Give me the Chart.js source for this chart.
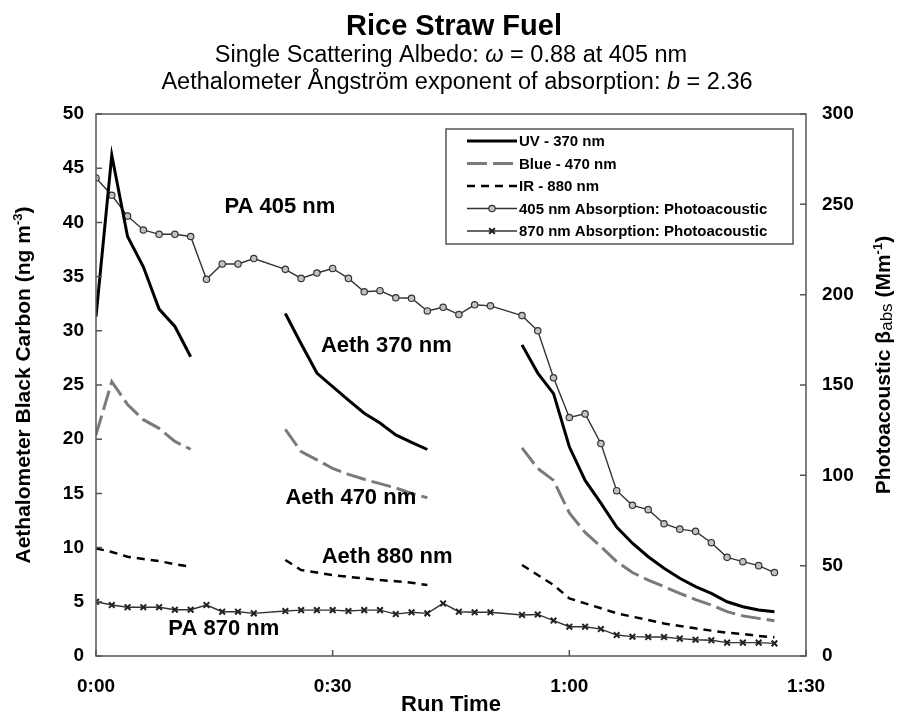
<!DOCTYPE html>
<html>
<head>
<meta charset="utf-8">
<script src="https://cdn.jsdelivr.net/npm/chart.js@4"></script>
<style>
  html, body { margin: 0; padding: 0; background: #fff; }
  #wrap { width: 903px; height: 716px; position: relative; }
</style>
</head>
<body>
<div id="wrap"><canvas id="c"></canvas></div>
<script>
// Aethalometer readings (ng m-3), left axis; null = instrument gap
const aethMinutes = [0, 2, 4, 6, 8, 10, 12, 18,
  24, 26, 28, 30, 32, 34, 36, 38, 40, 42, 48,
  54, 56, 58, 60, 62, 64, 66, 68, 70, 72, 74, 76, 78, 80, 82, 84, 86];
const uv370 = [31.3, 46.2, 38.7, 35.9, 32.0, 30.4, 27.6, null,
  31.6, 28.8, 26.1, 24.85, 23.6, 22.4, 21.5, 20.4, 19.7, 19.05, null,
  28.7, 26.1, 24.2, 19.3, 16.2, 14.1, 11.9, 10.4, 9.16, 8.1, 7.17, 6.4, 5.78, 5.0, 4.55, 4.24, 4.09];
const blue470 = [20.4, 25.3, 23.2, 21.8, 21.0, 19.8, 19.07, null,
  20.9, 18.85, 18.1, 17.3, 16.75, 16.3, 15.9, 15.5, 15.0, 14.6, null,
  19.2, 17.3, 16.2, 13.2, 11.4, 10.1, 8.7, 7.7, 7.0, 6.4, 5.78, 5.2, 4.7, 4.09, 3.7, 3.47, 3.26];
const ir880 = [9.93, 9.6, 9.16, 8.95, 8.76, 8.46, 8.24, null,
  8.86, 7.93, 7.7, 7.47, 7.3, 7.17, 7.0, 6.9, 6.76, 6.55, null,
  8.4, 7.47, 6.55, 5.32, 4.86, 4.4, 3.94, 3.63, 3.32, 3.0, 2.77, 2.55, 2.34, 2.15, 2.03, 1.85, 1.72];

// Photoacoustic absorption (Mm-1), right axis
const paMinutes = [0, 2, 4, 6, 8, 10, 12, 14, 16, 18, 20,
  24, 26, 28, 30, 32, 34, 36, 38, 40, 42, 44, 46, 48, 50,
  54, 56, 58, 60, 62, 64, 66, 68, 70, 72, 74, 76, 78, 80, 82, 84, 86];
const pa405 = [264.6, 255, 243.5, 235.8, 233.4, 233.4, 232.2, 208.5, 217, 217, 220,
  214, 209, 212, 214.5, 209, 201.6, 202.2, 198.3, 198, 191, 193, 189, 194.4, 193.8,
  188.4, 180, 154, 132, 134, 117.6, 91.5, 83.4, 81, 73.2, 70.2, 69, 62.7, 54.6, 52.2, 50, 46.2];
const pa870 = [30, 28.2, 27, 27, 27, 25.6, 25.6, 28.2, 24.5, 24.5, 23.6,
  24.9, 25.4, 25.4, 25.4, 24.9, 25.4, 25.4, 23.2, 24.2, 23.6, 29.1, 24.5, 24.2, 24.2,
  22.7, 23, 19.6, 16.2, 16.2, 14.9, 11.6, 10.7, 10.5, 10.5, 9.6, 9, 8.7, 7.4, 7.4, 7.4, 7];

const seriesNames = ['UV - 370 nm', 'Blue - 470 nm', 'IR - 880 nm',
  '405 nm Absorption: Photoacoustic', '870 nm Absorption: Photoacoustic'];
const xTicks = [0, 30, 60, 90];

// in-plot labels, placed in data units (minutes, ng m-3)
const plotLabels = [
  { text: 'PA 405 nm', x: 23.3, y: 41.4 },
  { text: 'Aeth 370 nm', x: 36.8, y: 28.6 },
  { text: 'Aeth 470 nm', x: 32.3, y: 14.6 },
  { text: 'Aeth 880 nm', x: 36.9, y: 9.1 },
  { text: 'PA 870 nm', x: 16.2, y: 2.5 },
];

const FONT = "'Liberation Sans', Arial, sans-serif";
const pts = (xs, ys) => xs.map((x, i) => ({ x, y: ys[i] }));

// draws a row of [text, style] pieces centered on cx
function richText(ctx, parts, cx, cy, rotate) {
  ctx.save();
  ctx.translate(cx, cy);
  if (rotate) ctx.rotate(-Math.PI / 2);
  ctx.textBaseline = 'alphabetic';
  ctx.textAlign = 'left';
  let total = 0;
  parts.forEach(p => { ctx.font = p.font; total += ctx.measureText(p.t).width; });
  let x = -total / 2;
  parts.forEach(p => {
    ctx.font = p.font;
    ctx.fillStyle = '#000';
    ctx.fillText(p.t, x, p.dy || 0);
    x += ctx.measureText(p.t).width;
  });
  ctx.restore();
}

const decor = {
  id: 'decor',
  afterDraw(chart) {
    const { ctx, chartArea: a, scales } = chart;
    ctx.save();

    // frame + inward ticks
    ctx.strokeStyle = '#555';
    ctx.lineWidth = 1.5;
    ctx.strokeRect(a.left, a.top, a.right - a.left, a.bottom - a.top);
    ctx.beginPath();
    scales.y.ticks.forEach((t, i) => {
      const p = scales.y.getPixelForTick(i);
      ctx.moveTo(a.left, p); ctx.lineTo(a.left + 6, p);
    });
    scales.y2.ticks.forEach((t, i) => {
      const p = scales.y2.getPixelForTick(i);
      ctx.moveTo(a.right - 6, p); ctx.lineTo(a.right, p);
    });
    scales.x.ticks.forEach((t, i) => {
      const p = scales.x.getPixelForTick(i);
      ctx.moveTo(p, a.bottom - 6); ctx.lineTo(p, a.bottom);
    });
    ctx.stroke();

    // titles
    ctx.fillStyle = '#000';
    ctx.textAlign = 'center';
    ctx.textBaseline = 'alphabetic';
    ctx.font = `bold 29px ${FONT}`;
    ctx.fillText('Rice Straw Fuel', 454, 35);
    const reg = `23.5px ${FONT}`, it = `italic 23.5px ${FONT}`;
    richText(ctx, [
      { t: 'Single Scattering Albedo: ', font: reg },
      { t: 'ω', font: it },
      { t: ' = 0.88 at 405 nm', font: reg },
    ], 451, 62);
    richText(ctx, [
      { t: 'Aethalometer Ångström exponent of absorption: ', font: reg },
      { t: 'b', font: it },
      { t: ' = 2.36', font: reg },
    ], 457, 89);

    // axis titles
    const bold = `bold 21px ${FONT}`, sup = `bold 13px ${FONT}`;
    richText(ctx, [
      { t: 'Aethalometer Black Carbon (ng m', font: bold },
      { t: '-3', font: sup, dy: -8 },
      { t: ')', font: bold },
    ], 30, 385, true);
    richText(ctx, [
      { t: 'Photoacoustic β', font: bold },
      { t: 'abs', font: `17px ${FONT}`, dy: 2 },
      { t: ' (Mm', font: bold },
      { t: '-1', font: sup, dy: -8 },
      { t: ')', font: bold },
    ], 890, 365, true);

    // in-plot labels
    ctx.font = `bold 22px ${FONT}`;
    ctx.textAlign = 'center';
    ctx.textBaseline = 'middle';
    plotLabels.forEach(l => {
      ctx.fillText(l.text, scales.x.getPixelForValue(l.x), scales.y.getPixelForValue(l.y));
    });

    // legend box
    const w = 347, h = 115, x0 = a.right - 13 - w, y0 = a.top + 15;
    ctx.fillStyle = '#fff';
    ctx.fillRect(x0, y0, w, h);
    ctx.strokeStyle = '#555';
    ctx.lineWidth = 1.5;
    ctx.strokeRect(x0, y0, w, h);
    chart.data.datasets.forEach((ds, i) => {
      const y = y0 + 12 + i * 22.5;
      ctx.strokeStyle = ds.borderColor;
      ctx.lineWidth = ds.borderWidth;
      ctx.setLineDash(ds.borderDash || []);
      ctx.beginPath();
      ctx.moveTo(x0 + 21, y);
      ctx.lineTo(x0 + 71, y);
      ctx.stroke();
      ctx.setLineDash([]);
      if (ds.pointRadius) {
        ctx.fillStyle = ds.pointBackgroundColor;
        ctx.strokeStyle = ds.pointBorderColor;
        ctx.lineWidth = ds.pointBorderWidth;
        Chart.helpers.drawPoint(ctx, {
          pointStyle: ds.pointStyle, radius: ds.pointRadius, borderWidth: ds.pointBorderWidth, rotation: 0,
        }, x0 + 46, y);
      }
      ctx.fillStyle = '#000';
      ctx.font = `bold 15px ${FONT}`;
      ctx.textAlign = 'left';
      ctx.textBaseline = 'middle';
      ctx.fillText(ds.label, x0 + 73, y + 1);
    });
    ctx.restore();
  },
};

const tickFont = { family: FONT, size: 19, weight: 'bold' };

new Chart(document.getElementById('c'), {
  type: 'line',
  data: {
    datasets: [
      {
        label: seriesNames[0], data: pts(aethMinutes, uv370), yAxisID: 'y',
        borderColor: '#000', borderWidth: 3, pointRadius: 0, tension: 0,
      },
      {
        label: seriesNames[1], data: pts(aethMinutes, blue470), yAxisID: 'y',
        borderColor: '#7a7a7a', borderWidth: 3, borderDash: [20, 6], pointRadius: 0,
      },
      {
        label: seriesNames[2], data: pts(aethMinutes, ir880), yAxisID: 'y',
        borderColor: '#000', borderWidth: 2.5, borderDash: [8, 6], pointRadius: 0,
      },
      {
        label: seriesNames[3], data: pts(paMinutes, pa405), yAxisID: 'y2',
        borderColor: '#333', borderWidth: 1.4, pointStyle: 'circle', pointRadius: 3.2,
        pointBackgroundColor: '#c2c2c2', pointBorderColor: '#333', pointBorderWidth: 1.2,
      },
      {
        label: seriesNames[4], data: pts(paMinutes, pa870), yAxisID: 'y2',
        borderColor: '#333', borderWidth: 1.4, pointStyle: 'crossRot', pointRadius: 4,
        pointBackgroundColor: '#333', pointBorderColor: '#222', pointBorderWidth: 2,
      },
    ],
  },
  options: {
    responsive: true,
    maintainAspectRatio: false,
    animation: false,
    events: [],
    layout: { padding: { top: 114, left: 0, right: 0, bottom: 0 } },
    plugins: { legend: { display: false }, tooltip: { enabled: false } },
    scales: {
      x: {
        type: 'linear', min: 0, max: 90,
        afterBuildTicks(s) { s.ticks = xTicks.map(v => ({ value: v })); },
        afterFit(s) { s.height = 60; },
        grid: { display: false, drawTicks: false },
        border: { display: false },
        ticks: {
          padding: 19, color: '#000', font: tickFont, maxRotation: 0,
          callback: v => `${Math.floor(v / 60)}:${String(v % 60).padStart(2, '0')}`,
        },
        title: {
          display: true, text: 'Run Time', color: '#000',
          font: { family: FONT, size: 22, weight: 'bold', lineHeight: 1 }, padding: { top: 0, bottom: 0 },
        },
      },
      y: {
        position: 'left', min: 0, max: 50,
        afterFit(s) { s.width = 96; },
        grid: { display: false, drawTicks: false },
        border: { display: false },
        ticks: { stepSize: 5, padding: 12, color: '#000', font: tickFont },
      },
      y2: {
        position: 'right', min: 0, max: 300,
        afterFit(s) { s.width = 97; },
        grid: { display: false, drawTicks: false },
        border: { display: false },
        ticks: { stepSize: 50, padding: 16, color: '#000', font: tickFont },
      },
    },
  },
  plugins: [decor],
});
</script>
</body>
</html>
